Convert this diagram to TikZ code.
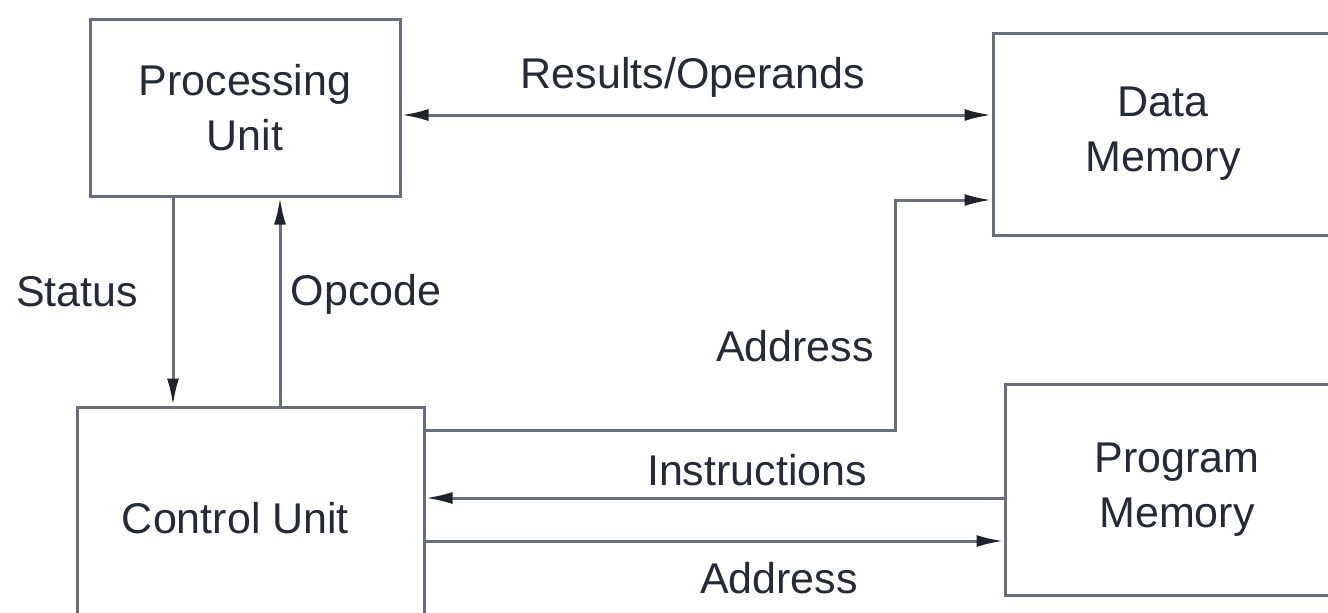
\documentclass[tikz,border=0pt]{standalone}
\usepackage{fontspec}
\setmainfont{Liberation Sans}
\usetikzlibrary{arrows.meta}
\definecolor{linecol}{HTML}{6A6E78}
\definecolor{tipcol}{HTML}{1F2229}
\definecolor{txtcol}{HTML}{262A35}
\tikzset{
  unit/.style={draw=linecol, line width=3pt, fill=white, align=center,
    text=txtcol, font=\fontsize{43}{55}\selectfont, inner sep=0pt},
  lbl/.style={text=txtcol, font=\fontsize{43}{55}\selectfont, inner sep=0pt},
  wire/.style={draw=linecol, line width=3pt},
  tip/.tip={Latex[length=27pt,width=12pt,color=tipcol]},
}
\begin{document}
\begin{tikzpicture}[x=1pt,y=-1pt]
\useasboundingbox (0,0) rectangle (1328,613);
\fill[white] (0,0) rectangle (1328,613);
\begin{scope}
\clip (0,0) rectangle (1328,613);
% blocks
\node[unit, minimum width=310pt, minimum height=177pt] (pu) at (245,107.5) {Processing\\Unit};
\node[unit, minimum width=340pt, minimum height=202pt] (dm) at (1163,134) {Data\\Memory};
\node[unit, minimum width=347pt, minimum height=222pt] (cu) at (250.5,518) {\hspace*{-30pt}Control Unit};
\node[unit, minimum width=344pt, minimum height=211pt] (pm) at (1177,489.5) {Program\\Memory};

% reference heights / columns for the wires
\coordinate (yRes) at (0,115);
\coordinate (yDA) at (0,200);
\coordinate (yCA) at (0,430);
\coordinate (yIns) at (0,498);
\coordinate (yPA) at (0,541);
\coordinate (xSt) at (173,0);
\coordinate (xOp) at (280,0);
\coordinate (bend1) at (895,430);
\coordinate (bend2) at (895,200);

% connectors
\draw[wire, tip-tip] (pu.east |- yRes) -- (dm.west |- yRes);
\draw[wire, -tip] (xSt |- pu.south) -- (xSt |- cu.north);
\draw[wire, -tip] (xOp |- cu.north) -- (xOp |- pu.south);
\draw[wire, -tip] (cu.east |- yCA) -- (bend1) -- (bend2) -- (dm.west |- yDA);
\draw[wire, -tip] (pm.west |- yIns) -- (cu.east |- yIns);
\draw[wire, -tip] (cu.east |- yPA) -- (pm.west |- yPA);
\end{scope}

% labels
\node[lbl] (lres) at (693,77) {Results/Operands};
\node[lbl] (lst) at (77,292) {Status};
\node[lbl] (lop) at (366,294) {Opcode};
\node[lbl] (lda) at (795,346) {Address};
\node[lbl] (lins) at (757,470) {Instructions};
\node[lbl] (lpa) at (779,578) {Address};
\end{tikzpicture}
\end{document}
